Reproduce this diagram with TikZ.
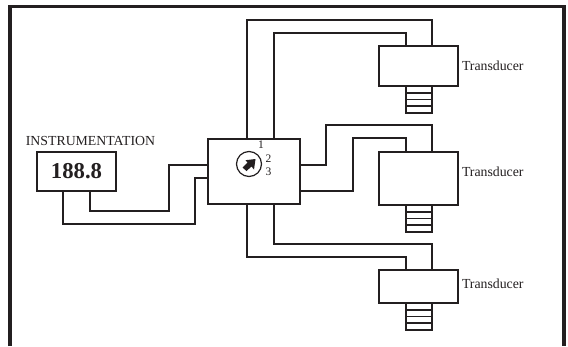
\documentclass[tikz,border=0pt]{standalone}
\usepackage{fontspec}
\setmainfont{Liberation Serif}
\usepackage{tikz}
\usetikzlibrary{calc, positioning}
\definecolor{ink}{HTML}{231F20}
\tikzset{
    box/.style={rectangle, draw=ink, line width=1.7pt, inner sep=0pt, outer sep=0pt},
    wire/.style={draw=ink, line width=1.7pt, line join=miter},
    rung/.style={draw=ink, line width=1.7pt},
    caption/.style={text=ink, inner sep=0pt, outer sep=0pt, font=\fontsize{13.8}{15}\selectfont},
    digit/.style={text=ink, inner sep=0pt, outer sep=0pt, font=\fontsize{11.5}{13}\selectfont},
    transducer/.style={box, minimum width=79pt, minimum height=#1},
    ladder/.style={box, minimum width=26pt, minimum height=27pt}
}
\begin{document}
\begin{tikzpicture}[x=1pt, y=1pt]
        \useasboundingbox (0,0) rectangle (568,-346);
        \fill[white] (0,0) rectangle (568,-346);
        \draw[ink, line width=3.5pt] (10,-346) |- (564,-6.5) -- (564,-346);

        \node[box, minimum width=92pt, minimum height=65pt](switch) at (254,-171.5){};
        \node[box, minimum width=79pt, minimum height=39pt](meter)[left = 92pt of switch]{\fontsize{22.7}{24}\selectfont\bfseries\color{ink}188.8};
        \node[caption](instr)[above = 6pt of meter, xshift=14pt]{INSTRUMENTATION};

        \node[transducer=53pt](trtwo)[right = 79pt of switch, yshift=-7pt]{};
        \node[transducer=40pt](trone)[above = 66pt of trtwo]{};
        \node[transducer=33pt](trthree)[below = 65pt of trtwo]{};

        \node[ladder](ladone)[below = 0pt of trone, xshift=.5pt]{};
        \node[ladder](ladtwo)[below = 0pt of trtwo, xshift=.5pt]{};
        \node[ladder](ladthree)[below = 0pt of trthree, xshift=.5pt]{};

        \node[caption](capone)[right = 4pt of trone, yshift=.5pt]{Transducer};
        \node[caption](captwo)[right = 4pt of trtwo, yshift=7pt]{Transducer};
        \node[caption](capthree)[right = 4pt of trthree, yshift=3pt]{Transducer};

        \node[circle, draw=ink, line width=1.2pt, minimum size=25pt, inner sep=0pt](dial) at (249,-164){};
        \node[digit](d1) at (261,-145){1};
        \node[digit](d2) at (268.5,-158.5){2};
        \node[digit](d3) at (268.5,-172){3};
        \fill[ink] ($(dial)+(-6.5,-3.5)$) -- ($(dial)+(-1.5,1.5)$) -- ($(dial)+(-3.5,3.8)$) -- ($(dial)+(6.5,5)$) -- ($(dial)+(5,-5.5)$) -- ($(dial)+(2.5,-2.5)$) -- ($(dial)+(-2.5,-7)$) -- cycle;

        % ports on the boxes
        \foreach \t in {one, two, three}{
            \coordinate (\t a) at (tr\t.north -| lad\t.west);
            \coordinate (\t b) at (tr\t.north -| lad\t.east);
            \foreach \n in {1,2,3}{
                \coordinate (l\t\n) at ($(lad\t.north west)!\n/4!(lad\t.south west)$);
                \draw[rung] (l\t\n) -- ($(lad\t.north east)!\n/4!(lad\t.south east)$);
            }
        }
        \coordinate (swtl) at ($(switch.north west)+(39,0)$);
        \coordinate (swtr) at ($(switch.north west)+(66,0)$);
        \coordinate (swbl) at ($(switch.south west)+(39,0)$);
        \coordinate (swbr) at ($(switch.south west)+(66,0)$);
        \coordinate (swlt) at ($(switch.north west)+(0,-26)$);
        \coordinate (swlb) at ($(switch.north west)+(0,-39)$);
        \coordinate (swrt) at ($(switch.north east)+(0,-26)$);
        \coordinate (swrb) at ($(switch.north east)+(0,-52)$);
        \coordinate (mtl) at ($(meter.south west)+(26,0)$);
        \coordinate (mtr) at ($(meter.south west)+(53,0)$);

        \path[wire]
        (swtl) |- (248,-20) -| (oneb)
        (swtr) |- (275,-33) -| (onea)
        (swrt) -| (326,-125) -| (twob)
        (swrb) -| (353,-138) -| (twoa)
        (swbr) |- (275,-244) -| (threeb)
        (swbl) |- (248,-257) -| (threea)
        (mtl) |- (64,-224) -| (195,-178) -- (swlb)
        (mtr) |- (91,-211) -| (169,-165) -- (swlt);
    \end{tikzpicture}
\end{document}
